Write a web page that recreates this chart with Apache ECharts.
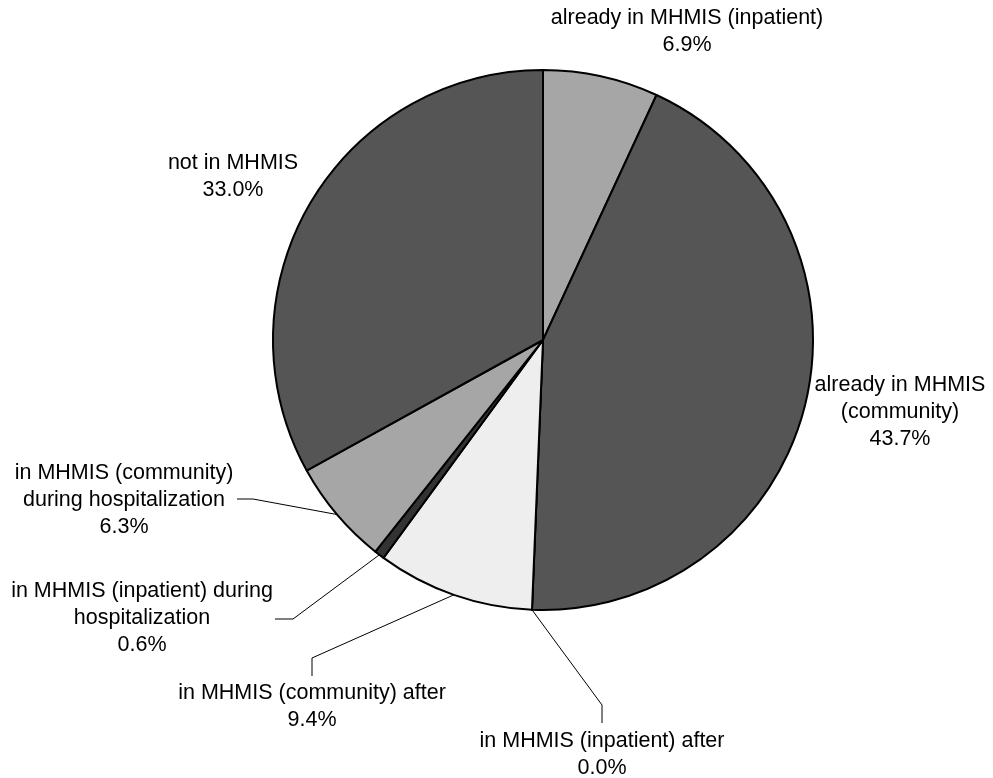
<!DOCTYPE html>
<html>
<head>
<meta charset="utf-8">
<script src="https://cdn.jsdelivr.net/npm/echarts@6/dist/echarts.min.js"></script>
<style>html,body{margin:0;padding:0;background:#fff}#c{width:993px;height:778px}</style>
</head>
<body>
<div id="c"></div>
<script>
const categories = [
  'already in MHMIS (inpatient)',
  'already in MHMIS\n(community)',
  'in MHMIS (inpatient) after',
  'in MHMIS (community) after',
  'in MHMIS (inpatient) during\nhospitalization',
  'in MHMIS (community)\nduring hospitalization',
  'not in MHMIS'
];
const values = [6.9, 43.7, 0.0, 9.4, 0.6, 6.3, 33.0];
const colors = ['#a6a6a6', '#555555', '#333333', '#eeeeee', '#333333', '#a6a6a6', '#555555'];

// label placement (centre of text block) and leader-line bend points
const labelPos = [[687, 32], [900, 412], [602, 755], [312, 707], [142, 618], [124, 500], [233, 177]];
const linePts = [null, null, [[602, 705], [602, 723]], [[312, 658], [312, 676]], [[293, 619], [275, 619]], [[253, 499], [237, 499]], null];

const chart = echarts.init(document.getElementById('c'), null, {renderer: 'canvas'});
chart.setOption({
  animation: false,
  series: [{
    type: 'pie',
    center: [543, 340],
    radius: 270,
    startAngle: 90,
    clockwise: true,
    avoidLabelOverlap: false,
    minShowLabelAngle: 0,
    data: categories.map((c, i) => ({
      name: c,
      value: values[i],
      itemStyle: {color: colors[i]},
      labelLine: {show: !!linePts[i]}
    })),
    itemStyle: {borderColor: '#000', borderWidth: 2},
    label: {
      show: true,
      position: 'outside',
      formatter: p => p.name + '\n' + values[p.dataIndex].toFixed(1) + '%',
      fontFamily: 'Liberation Sans, Arial, sans-serif',
      fontSize: 21.5,
      lineHeight: 27,
      color: '#000',
      align: 'center'
    },
    labelLine: {show: true, lineStyle: {color: '#000', width: 1}, length: 20, length2: 20},
    labelLayout: function (params) {
      const i = params.dataIndex;
      const res = {x: labelPos[i][0], y: labelPos[i][1], align: 'center', verticalAlign: 'middle', hideOverlap: false};
      if (linePts[i] && params.labelLinePoints) {
        res.labelLinePoints = [params.labelLinePoints[0], linePts[i][0], linePts[i][1]];
      }
      return res;
    }
  }]
});
</script>
</body>
</html>
